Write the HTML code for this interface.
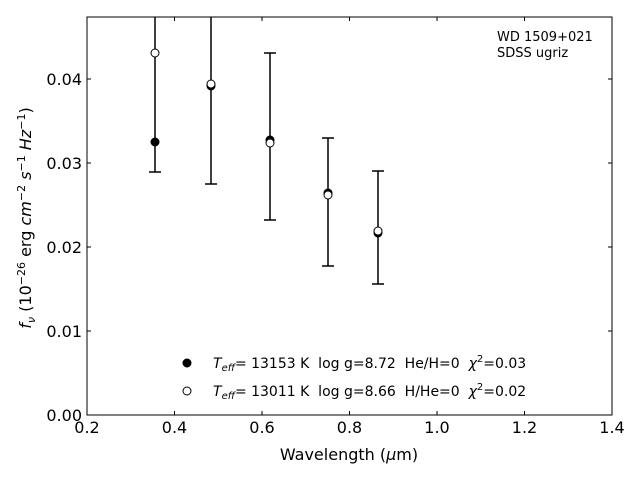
<!DOCTYPE html>
<html><head><style>body{margin:0;background:#fff}</style></head><body>
<svg width="640" height="480" xmlns="http://www.w3.org/2000/svg" font-family="DejaVu Sans, Liberation Sans, sans-serif">
<rect width="640" height="480" fill="#fff"/>
<defs><clipPath id="c"><rect x="87" y="17" width="525" height="398"/></clipPath></defs>
<g clip-path="url(#c)" stroke="#000" stroke-width="1.5" fill="none">
<line x1="155" y1="0" x2="155" y2="172"/><line x1="149" y1="172" x2="161" y2="172"/>
<line x1="211" y1="0" x2="211" y2="184"/><line x1="205" y1="184" x2="217" y2="184"/>
<line x1="270" y1="53" x2="270" y2="220"/><line x1="264" y1="53" x2="276" y2="53"/><line x1="264" y1="220" x2="276" y2="220"/>
<line x1="328" y1="138" x2="328" y2="266"/><line x1="322" y1="138" x2="334" y2="138"/><line x1="322" y1="266" x2="334" y2="266"/>
<line x1="378" y1="171" x2="378" y2="284"/><line x1="372" y1="171" x2="384" y2="171"/><line x1="372" y1="284" x2="384" y2="284"/>
</g>
<g stroke="#000" stroke-width="1">
<circle cx="155" cy="142" r="4" fill="#000"/>
<circle cx="211" cy="86" r="4" fill="#000"/>
<circle cx="270" cy="140" r="4" fill="#000"/>
<circle cx="328" cy="193" r="4" fill="#000"/>
<circle cx="378" cy="233" r="4" fill="#000"/>
<circle cx="155" cy="53" r="4" fill="#fff"/>
<circle cx="211" cy="84" r="4" fill="#fff"/>
<circle cx="270" cy="143" r="4" fill="#fff"/>
<circle cx="328" cy="195" r="4" fill="#fff"/>
<circle cx="378" cy="231" r="4" fill="#fff"/>
</g>
<rect x="87" y="17" width="525" height="398" fill="none" stroke="#000" stroke-width="1"/>
<g stroke="#000" stroke-width="1">
<line x1="87" y1="415" x2="87" y2="411"/><line x1="174.5" y1="415" x2="174.5" y2="411"/><line x1="262" y1="415" x2="262" y2="411"/><line x1="349.5" y1="415" x2="349.5" y2="411"/><line x1="437" y1="415" x2="437" y2="411"/><line x1="524.5" y1="415" x2="524.5" y2="411"/><line x1="612" y1="415" x2="612" y2="411"/>
<line x1="87" y1="17" x2="87" y2="21"/><line x1="174.5" y1="17" x2="174.5" y2="21"/><line x1="262" y1="17" x2="262" y2="21"/><line x1="349.5" y1="17" x2="349.5" y2="21"/><line x1="437" y1="17" x2="437" y2="21"/><line x1="524.5" y1="17" x2="524.5" y2="21"/><line x1="612" y1="17" x2="612" y2="21"/>
<line x1="87" y1="331" x2="91" y2="331"/><line x1="87" y1="247" x2="91" y2="247"/><line x1="87" y1="163" x2="91" y2="163"/><line x1="87" y1="79" x2="91" y2="79"/>
<line x1="612" y1="331" x2="608" y2="331"/><line x1="612" y1="247" x2="608" y2="247"/><line x1="612" y1="163" x2="608" y2="163"/><line x1="612" y1="79" x2="608" y2="79"/>
</g>
<g font-size="16" fill="#000" text-anchor="middle">
<text x="87" y="433">0.2</text><text x="174.5" y="433">0.4</text><text x="262" y="433">0.6</text><text x="349.5" y="433">0.8</text><text x="437" y="433">1.0</text><text x="524.5" y="433">1.2</text><text x="612" y="433">1.4</text>
</g>
<g font-size="16" fill="#000" text-anchor="end">
<text x="82" y="421">0.00</text><text x="82" y="337">0.01</text><text x="82" y="253">0.02</text><text x="82" y="169">0.03</text><text x="82" y="85">0.04</text>
</g>
<text x="349" y="460" font-size="16" text-anchor="middle">Wavelength (<tspan font-style="italic">μ</tspan>m)</text>
<text transform="translate(31,218) rotate(-90)" font-size="16" text-anchor="middle"><tspan font-style="italic">f</tspan><tspan font-size="11" dy="4" font-style="italic">ν</tspan><tspan dy="-4"> (10</tspan><tspan font-size="11" dy="-6">−26</tspan><tspan dy="6"> erg </tspan><tspan font-style="italic">cm</tspan><tspan font-size="11" dy="-6">−2</tspan><tspan dy="6" font-style="italic"> s</tspan><tspan font-size="11" dy="-6">−1</tspan><tspan dy="6" font-style="italic"> Hz</tspan><tspan font-size="11" dy="-6">−1</tspan><tspan dy="6">)</tspan></text>
<text x="497" y="41" font-size="13">WD 1509+021</text>
<text x="497" y="57" font-size="13">SDSS ugriz</text>
<circle cx="187" cy="363" r="4" fill="#000" stroke="#000"/>
<circle cx="187" cy="391" r="4" fill="#fff" stroke="#000"/>
<text x="213" y="368" font-size="14" style="white-space:pre"><tspan font-style="italic">T</tspan><tspan font-size="10" dy="3" font-style="italic">eff</tspan><tspan dy="-3">= 13153 K  log g=8.72  He/H=0  </tspan><tspan font-style="italic">χ</tspan><tspan font-size="10" dy="-6">2</tspan><tspan dy="6">=0.03</tspan></text>
<text x="213" y="396" font-size="14" style="white-space:pre"><tspan font-style="italic">T</tspan><tspan font-size="10" dy="3" font-style="italic">eff</tspan><tspan dy="-3">= 13011 K  log g=8.66  H/He=0  </tspan><tspan font-style="italic">χ</tspan><tspan font-size="10" dy="-6">2</tspan><tspan dy="6">=0.02</tspan></text>
</svg>
</body></html>
